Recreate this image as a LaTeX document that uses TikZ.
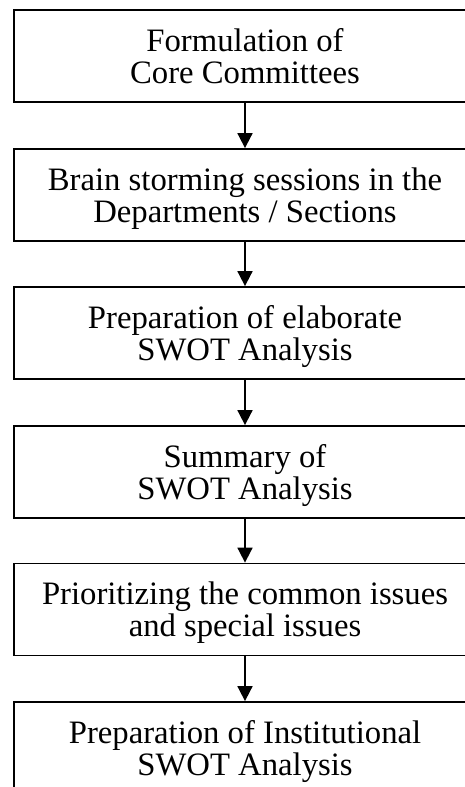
\documentclass[tikz,border=0pt]{standalone}
\usepackage{fontspec}
\setmainfont{Liberation Serif}
\usetikzlibrary{arrows.meta}

\tikzset{
  stepbox/.style={draw, line width=1.8pt, minimum width=462pt, minimum height=92pt,
    align=center, inner sep=0pt, text depth=0pt, font=\fontsize{32.7}{32}\selectfont},
  flow/.style={line width=1.8pt, -{Triangle[length=15pt, width=15pt]}}
}

\begin{document}
\begin{tikzpicture}[x=1pt, y=1pt]
\clip (0,0) rectangle (465,-787);
\useasboundingbox (0,0) rectangle (465,-787);

% steps
\node[stepbox] at (245,-56) (core) {Formulation of\\Core Committees};
\node[stepbox] at (245,-195) (brain) {Brain storming sessions in the\\Departments / Sections};
\node[stepbox] at (245,-333) (elab) {Preparation of elaborate\\SWOT Analysis};
\node[stepbox] at (245,-472) (summ) {Summary of\\SWOT Analysis};
\node[stepbox] at (245,-609.5) (prio) {Prioritizing the common issues\\and special issues};
\node[stepbox] at (245,-748) (inst) {Preparation of Institutional\\SWOT Analysis};

% arrows
\draw[flow] (core) -- (brain);
\draw[flow] (brain) -- (elab);
\draw[flow] (elab) -- (summ);
\draw[flow] (summ) -- (prio);
\draw[flow] (prio) -- (inst);

\end{tikzpicture}
\end{document}
